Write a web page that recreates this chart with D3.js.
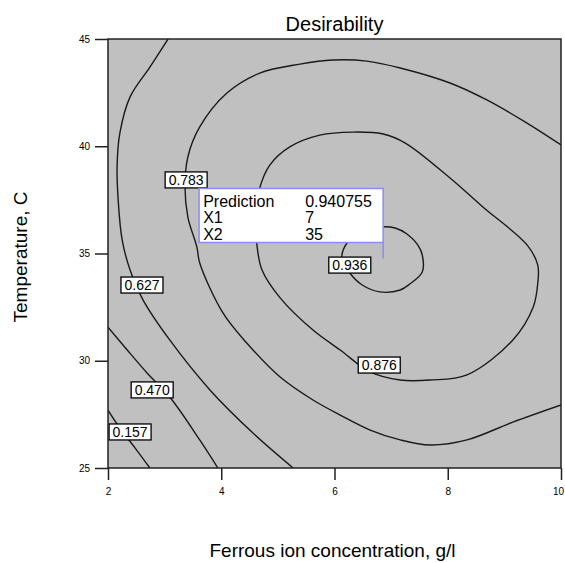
<!DOCTYPE html>
<html>
<head>
<meta charset="utf-8">
<script src="https://cdn.jsdelivr.net/npm/d3@7"></script>
<style>
  body { margin: 0; background: #fff; }
  text { font-family: "Liberation Sans", Arial, sans-serif; }
</style>
</head>
<body>
<div id="chart"></div>
<script>
// axis ticks
const xTicks = [2, 4, 6, 8, 10];
const yTicks = [25, 30, 35, 40, 45];

// contour lines, [X1 (g/l), X2 (C)]
const c157 = [[2, 27.70], [2.21, 26.86], [2.48, 25.93], [2.74, 25]];
const c470 = [[2, 31.57], [2.34, 30.50], [2.69, 29.43], [3.09, 28.31], [3.62, 26.31], [3.94, 25]];
const c627 = [[3.06, 45], [2.74, 43.69], [2.39, 42.30], [2.21, 40.62], [2.16, 39.03], [2.18, 37.49],
              [2.25, 35.63], [2.39, 34.23], [2.62, 32.83], [3.09, 30.97], [3.80, 28.64], [4.56, 26.63], [5.27, 25]];
const c783 = [[10, 40.06], [9.40, 41.08], [8.69, 42.16], [8.04, 42.95], [7.16, 43.65], [6.57, 43.97],
              [5.97, 44.02], [5.39, 43.83], [4.68, 43.41], [4.10, 42.48], [3.62, 40.90], [3.41, 39.50],
              [3.36, 38.10], [3.41, 36.70], [3.57, 35.30], [3.62, 34.56], [4.03, 32.23], [4.45, 30.83],
              [5.04, 29.24], [5.62, 28.17], [6.10, 27.47], [6.63, 26.77], [7.16, 26.31], [7.69, 26.07],
              [8.34, 26.31], [9.15, 27.14], [10, 27.94]];
const c876 = [[4.61, 36.56], [4.67, 37.96], [4.86, 39.13], [5.21, 39.97], [5.74, 40.52], [6.33, 40.66],
              [6.86, 40.57], [7.25, 40.15], [8.04, 38.52], [8.62, 37.17], [9.40, 35.40], [9.59, 34.46],
              [9.59, 33.62], [9.51, 32.51], [9.15, 30.97], [8.34, 29.34], [7.69, 29.10], [7.16, 29.10],
              [6.63, 29.48], [6.10, 30.50], [5.62, 31.43], [5.04, 32.93], [4.72, 34.23], [4.63, 35.40]];
const c936 = [[6.22, 35.49], [6.45, 36.00], [6.84, 36.24], [7.07, 36.19], [7.28, 35.91], [7.47, 35.40],
              [7.55, 34.93], [7.55, 34.14], [7.33, 33.58], [7.16, 33.30], [6.80, 33.21], [6.49, 33.53],
              [6.27, 34.09], [6.13, 34.79]];

// contour labels
const labelText = ["0.157", "0.470", "0.627", "0.783", "0.876", "0.936"];
const labelX = [2.39, 2.78, 2.60, 3.38, 6.79, 6.27];
const labelY = [26.68, 28.64, 33.53, 38.43, 29.80, 34.46];

// prediction flag
const predNames = ["Prediction", "X1", "X2"];
const predValues = ["0.940755", "7", "35"];
const predPoint = [7, 35];

const width = 565, height = 563;
const plotL = 108, plotR = 561, plotT = 39, plotB = 468;

let svg = d3.select("#chart").append("svg")
    .attr("width", width)
    .attr("height", height);

let x = d3.scaleLinear().domain([2, 10]).range([plotL, plotR]);
let y = d3.scaleLinear().domain([25, 45]).range([plotB, plotT]);

// plot background
svg.append("rect")
    .attr("x", plotL).attr("y", plotT)
    .attr("width", plotR - plotL).attr("height", plotB - plotT)
    .style("fill", "#c0c0c0");

// contour lines
let openLine = d3.line().x(d => x(d[0])).y(d => y(d[1])).curve(d3.curveCatmullRom);
let closedLine = d3.line().x(d => x(d[0])).y(d => y(d[1])).curve(d3.curveCatmullRomClosed);

svg.append("clipPath").attr("id", "clip")
    .append("rect").attr("x", plotL).attr("y", plotT)
    .attr("width", plotR - plotL).attr("height", plotB - plotT);
let g = svg.append("g").attr("clip-path", "url(#clip)");

g.selectAll("path.open")
    .data([c157, c470, c627, c783])
    .join("path")
        .attr("class", "open")
        .attr("d", openLine)
        .style("fill", "none")
        .style("stroke", "#1a1a1a")
        .style("stroke-width", 1.4);

g.selectAll("path.closed")
    .data([c876, c936])
    .join("path")
        .attr("class", "closed")
        .attr("d", closedLine)
        .style("fill", "none")
        .style("stroke", "#1a1a1a")
        .style("stroke-width", 1.4);

// contour labels
let labels = svg.selectAll("g.lab")
    .data(labelText)
    .join("g")
        .attr("class", "lab")
        .attr("transform", (d, i) => "translate(" + x(labelX[i]) + "," + y(labelY[i]) + ")");
labels.append("rect")
    .attr("x", -21).attr("y", -8)
    .attr("width", 42).attr("height", 16)
    .style("fill", "#fff")
    .style("stroke", "#000")
    .style("stroke-width", 1.3);
labels.append("text")
    .attr("text-anchor", "middle")
    .attr("y", 5)
    .style("font-size", "14px")
    .text(d => d);

// prediction flag
let px = x(predPoint[0]), py = y(predPoint[1]);
let flag = svg.append("g");
flag.append("rect")
    .attr("x", px - 192).attr("y", py - 65)
    .attr("width", 184).attr("height", 54)
    .style("fill", "#fff")
    .style("stroke", "#8c8cf0")
    .style("stroke-width", 1.5);
flag.append("line")
    .attr("x1", px - 8).attr("x2", px - 8)
    .attr("y1", py - 11).attr("y2", py + 5)
    .style("stroke", "#8c8cf0")
    .style("stroke-width", 1.5);
predNames.forEach(function(n, i){
    flag.append("text")
        .attr("x", px - 188).attr("y", py - 47 + i * 16.5)
        .style("font-size", "16px")
        .text(n);
    flag.append("text")
        .attr("x", px - 86).attr("y", py - 47 + i * 16.5)
        .style("font-size", "16px")
        .text(predValues[i]);
});

// frame
svg.append("rect")
    .attr("x", plotL).attr("y", plotT)
    .attr("width", plotR - plotL).attr("height", plotB - plotT)
    .style("fill", "none")
    .style("stroke", "#222")
    .style("stroke-width", 1.5);

// axes
let xAxis = d3.axisBottom(x).tickValues(xTicks).tickSize(12).tickSizeOuter(0).tickPadding(8);
let yAxis = d3.axisLeft(y).tickValues(yTicks).tickSize(13).tickSizeOuter(0).tickPadding(5);

svg.append("g")
    .attr("transform", "translate(0," + plotB + ")")
    .call(xAxis)
    .call(a => a.select(".domain").remove())
    .call(a => a.selectAll("line").style("stroke", "#222").style("stroke-width", 1.5))
    .call(a => a.selectAll("text").style("font-size", "10px").style("font-family", "Liberation Sans, Arial").style("fill", "#000"))
    .call(a => a.selectAll("text").filter(d => d === 10).attr("dx", -3)); // keep last label inside page

svg.append("g")
    .attr("transform", "translate(" + plotL + ",0)")
    .call(yAxis)
    .call(a => a.select(".domain").remove())
    .call(a => a.selectAll("line").style("stroke", "#222").style("stroke-width", 1.5))
    .call(a => a.selectAll("text").style("font-size", "10px").style("font-family", "Liberation Sans, Arial").style("fill", "#000"));

// titles
svg.append("text")
    .attr("x", (plotL + plotR) / 2).attr("y", 31)
    .attr("text-anchor", "middle")
    .style("font-size", "20px")
    .text("Desirability");

svg.append("text")
    .attr("x", (plotL + plotR) / 2 - 2).attr("y", 557)
    .attr("text-anchor", "middle")
    .style("font-size", "19px")
    .text("Ferrous ion concentration, g/l");

svg.append("text")
    .attr("transform", "translate(27,257) rotate(-90)")
    .attr("text-anchor", "middle")
    .style("font-size", "19px")
    .text("Temperature, C");
</script>
</body>
</html>
